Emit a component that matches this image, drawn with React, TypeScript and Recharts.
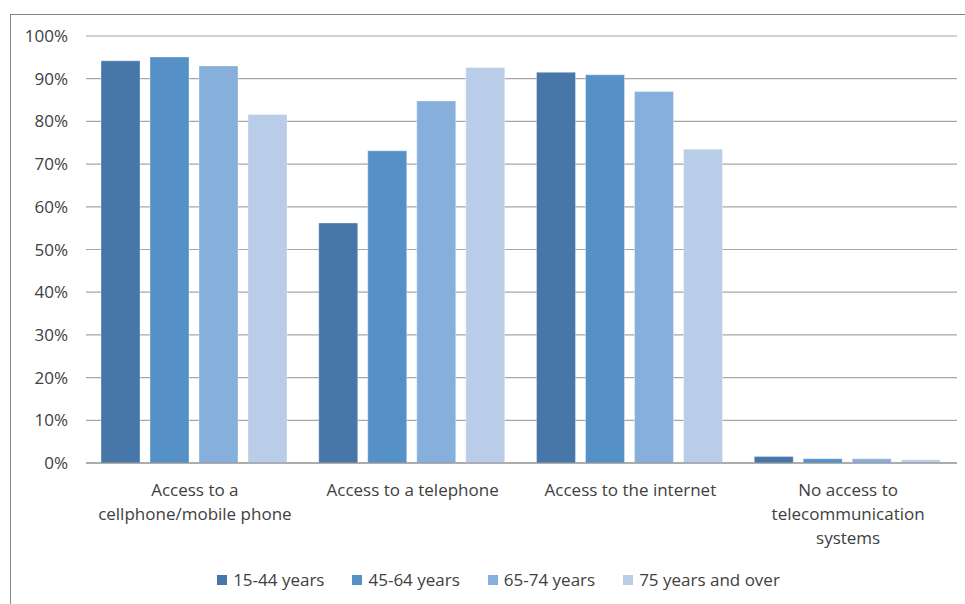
import { BarChart, Bar, XAxis, YAxis, CartesianGrid, Legend } from "recharts";

// access to telecommunications by age group (% of persons)
const categories = [
  "Access to a\ncellphone/mobile phone",
  "Access to a telephone",
  "Access to the internet",
  "No access to\ntelecommunication\nsystems",
];
const age15to44 = [94.2, 56.2, 91.5, 1.5];
const age45to64 = [95.1, 73.1, 90.9, 1.0];
const age65to74 = [93.0, 84.8, 87.0, 1.0];
const age75plus = [81.6, 92.6, 73.5, 0.75];
const yTicks = [0, 10, 20, 30, 40, 50, 60, 70, 80, 90, 100];

const series = [
  { key: "a", name: "15-44 years", values: age15to44, color: "#4677a8" },
  { key: "b", name: "45-64 years", values: age45to64, color: "#5591c7" },
  { key: "c", name: "65-74 years", values: age65to74, color: "#86afdc" },
  { key: "d", name: "75 years and over", values: age75plus, color: "#b9cde8" },
];

const data = categories.map((name, i) => {
  const row: Record<string, string | number> = { name };
  series.forEach((s) => (row[s.key] = s.values[i]));
  return row;
});

const FONT = "'Open Sans', sans-serif";
const TEXT = "#404040";

function CategoryTick({ x, y, payload }: any) {
  const lines = String(payload.value).split("\n");
  return (
    <text x={x} y={y} textAnchor="middle" fill={TEXT} fontFamily={FONT} fontSize={17}>
      {lines.map((line, i) => (
        <tspan key={i} x={x} dy={i === 0 ? 25 : 24}>
          {line}
        </tspan>
      ))}
    </text>
  );
}

function LegendRow() {
  return (
    <div style={{ display: "flex", justifyContent: "center", fontFamily: FONT, fontSize: 17, color: TEXT }}>
      {series.map((s) => (
        <div key={s.key} style={{ display: "flex", alignItems: "center", margin: "0 14px" }}>
          <span style={{ width: 10, height: 10, background: s.color, marginRight: 6 }} />
          <span>{s.name}</span>
        </div>
      ))}
    </div>
  );
}

export default function App() {
  return (
    <div style={{ position: "absolute", left: 0, top: 0, width: 965, height: 604, background: "#fff", overflow: "hidden" }}>
      <div
        style={{
          position: "absolute",
          left: 10,
          top: 14,
          width: 970,
          height: 600,
          border: "1px solid #868686",
        }}
      />
      <BarChart
        width={965}
        height={604}
        data={data}
        margin={{ top: 36, right: 8, bottom: 0, left: 0 }}
        barCategoryGap={15}
        barGap={10}
      >
        <CartesianGrid vertical={false} stroke="#a6a6a6" strokeWidth={1.2} />
        <XAxis
          dataKey="name"
          height={141}
          interval={0}
          tickLine={false}
          axisLine={{ stroke: "#868686", strokeWidth: 1.2 }}
          tick={<CategoryTick />}
        />
        <YAxis
          width={86}
          domain={[0, 100]}
          ticks={yTicks}
          tickFormatter={(v) => `${v}%`}
          axisLine={false}
          tickLine={false}
          tickSize={0}
          tickMargin={18}
          tick={{ fill: TEXT, fontFamily: FONT, fontSize: 17 }}
        />
        <Legend verticalAlign="middle" align="center" wrapperStyle={{ top: 568, left: 16, width: 965 }} content={() => <LegendRow />} />
        {series.map((s) => (
          <Bar
            key={s.key}
            dataKey={s.key}
            name={s.name}
            fill={s.color}
            stroke="#ffffff"
            strokeOpacity={0.35}
            strokeWidth={1}
            isAnimationActive={false}
          />
        ))}
      </BarChart>
    </div>
  );
}
